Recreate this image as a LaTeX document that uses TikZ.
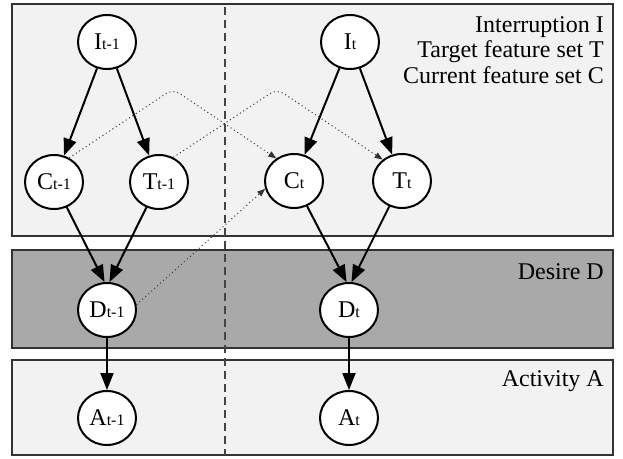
\documentclass[tikz,border=0pt]{standalone}
\usepackage{fontspec}
\setmainfont{Liberation Serif}
\usetikzlibrary{arrows.meta,shapes.geometric}
\definecolor{lightbox}{HTML}{F2F2F2}
\definecolor{darkbox}{HTML}{A9A9A9}
\definecolor{divider}{HTML}{444444}
\newcommand{\vlab}[2]{{\fontsize{24}{24}\selectfont #1}{\fontsize{16}{16}\selectfont #2}}
\begin{document}
\begin{tikzpicture}[x=1pt,y=-1pt,
  var/.style={ellipse, draw, line width=2pt, fill=white, minimum width=58pt, minimum height=54pt, inner sep=0pt},
  dep/.style={-{Triangle[length=17pt,width=13pt]}, line width=2pt},
  cross/.style={-{Triangle[length=8pt,width=6pt]}, line width=1pt, dash pattern=on 1pt off 3pt, black!80},
  band/.style={draw=black!80, line width=1.3pt},
  lbl/.style={font=\fontsize{24}{24}\selectfont, anchor=base east, inner sep=0pt}]
\useasboundingbox (0,0) rectangle (623,458);
% bands
\draw[band, fill=lightbox] (12,4) rectangle (613,236);
\draw[band, fill=darkbox] (12,250) rectangle (613,348);
\draw[band, fill=lightbox] (12,360) rectangle (613,455);
% divider
\draw[divider, line width=1.5pt, dash pattern=on 8pt off 5pt] (225,7) -- (225,455);
% band labels
\node[lbl] (lI) at (604,32) {Interruption I};
\node[lbl] (lT) at (604,57) {Target feature set T};
\node[lbl] (lC) at (604,83) {Current feature set C};
\node[lbl] (lD) at (604,279) {Desire D};
\node[lbl] (lA) at (604,386) {Activity A};
% nodes
\node[var] (It1) at (107,42) {\vlab{I}{t-1}};
\node[var] (It)  at (350,42) {\vlab{I}{t}};
\node[var] (Ct1) at (54,182) {\vlab{C}{t-1}};
\node[var] (Tt1) at (159,182) {\vlab{T}{t-1}};
\node[var] (Ct)  at (294,181) {\vlab{C}{t}};
\node[var] (Tt)  at (402,181) {\vlab{T}{t}};
\node[var] (Dt1) at (107,310) {\vlab{D}{t-1}};
\node[var] (Dt)  at (349,310) {\vlab{D}{t}};
\node[var] (At1) at (107,418) {\vlab{A}{t-1}};
\node[var] (At)  at (349,418) {\vlab{A}{t}};
% main dependencies
\draw[dep] (It1) -- (Ct1);
\draw[dep] (It1) -- (Tt1);
\draw[dep] (It) -- (Ct);
\draw[dep] (It) -- (Tt);
\draw[dep] (Ct1) -- (Dt1.95);
\draw[dep] (Tt1) -- (Dt1.85);
\draw[dep] (Ct) -- (Dt.95);
\draw[dep] (Tt) -- (Dt.85);
\draw[dep] (Dt1) -- (At1);
\draw[dep] (Dt) -- (At);
% cross-time dependencies
\coordinate (pC) at (173,89);
\coordinate (pT) at (277,89);
\draw[cross, rounded corners=8pt] (Ct1.58) -- (pC) -- (Ct.128);
\draw[cross, rounded corners=8pt] (Tt1.60) -- (pT) -- (Tt.132);
\draw[cross] (Dt1.10) -- (Ct.195);
\end{tikzpicture}
\end{document}
